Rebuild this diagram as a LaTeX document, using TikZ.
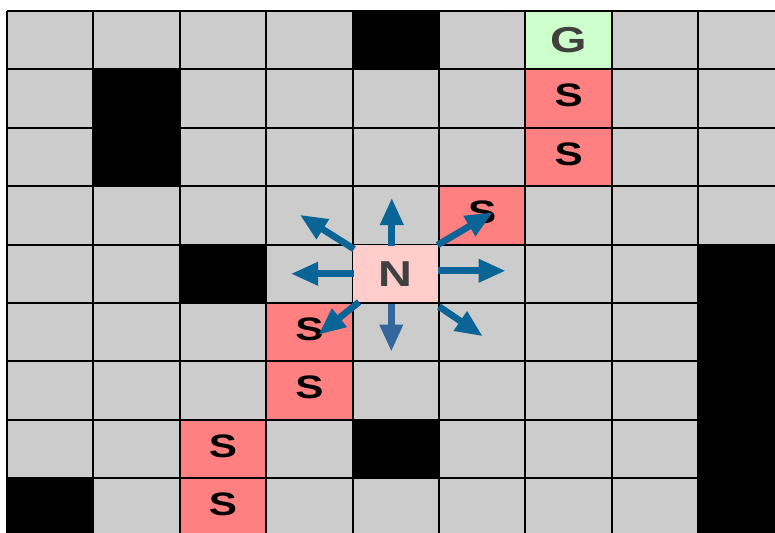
\documentclass[tikz,border=0pt]{standalone}
\usepackage{fontspec}
\setsansfont{Liberation Sans}
\usepackage{graphicx}
\usetikzlibrary{arrows.meta}

\definecolor{cellgray}{HTML}{CCCCCC}
\definecolor{pathred}{HTML}{FF8080}
\definecolor{goalgreen}{HTML}{CCFFCC}
\definecolor{nodepink}{HTML}{FFCCCC}
\definecolor{textgray}{HTML}{404040}
\definecolor{arrowblue}{HTML}{0A6496}
\definecolor{arrowblue2}{HTML}{33669A}

\begin{document}
\begin{tikzpicture}[
    x=1.728cm, y=-1.168cm,
    cell/.style={draw=black, line width=1.1pt, minimum width=1.728cm, minimum height=1.168cm, inner sep=0pt, font=\sffamily\bfseries\fontsize{18.5}{18.5}\selectfont},
    wall/.style={cell, fill=black},
    stepcell/.style={cell, fill=pathred, text=black, text depth=0.12cm},
    goalcell/.style={cell, fill=goalgreen, text=textgray, font=\sffamily\bfseries\fontsize{20.5}{20.5}\selectfont},
    nodecell/.style={cell, fill=nodepink, text=textgray, line width=0.6pt, font=\sffamily\bfseries\fontsize{20.5}{20.5}\selectfont},
    gridline/.style={draw=black, line width=1.1pt},
    movearrow/.style={-{Triangle[length=15.5pt, width=12.5pt]}, line width=3.8pt, color=arrowblue}
]
\useasboundingbox (-0.081,-0.188) rectangle (8.889,8.938);

% board
\fill[cellgray] (0,0) rectangle (9,9);
\foreach \i in {0,...,9} {
    \draw[gridline] (\i,0) -- (\i,9);
    \draw[gridline] (0,\i) -- (9,\i);
}

% obstacles
\node[wall] (w1) at (4.5,0.5) {};
\node[wall] (w2) at (1.5,1.5) {};
\node[wall] (w3) at (1.5,2.5) {};
\node[wall] (w4) at (2.5,4.5) {};
\node[wall] (w5) at (8.5,4.5) {};
\node[wall] (w6) at (8.5,5.5) {};
\node[wall] (w7) at (8.5,6.5) {};
\node[wall] (w8) at (4.5,7.5) {};
\node[wall] (w9) at (8.5,7.5) {};
\node[wall] (w10) at (0.5,8.5) {};
\node[wall] (w11) at (8.5,8.5) {};

% goal and path
\node[goalcell] (goal) at (6.5,0.5) {\scalebox{1.3}[1]{G}};
\node[stepcell] (s1) at (6.5,1.5) {\scalebox{1.3}[1]{S}};
\node[stepcell] (s2) at (6.5,2.5) {\scalebox{1.3}[1]{S}};
\node[stepcell] (s3) at (5.5,3.5) {\scalebox{1.3}[1]{S}};
\node[stepcell] (s4) at (3.5,5.5) {\scalebox{1.3}[1]{S}};
\node[stepcell] (s5) at (3.5,6.5) {\scalebox{1.3}[1]{S}};
\node[stepcell] (s6) at (2.5,7.5) {\scalebox{1.3}[1]{S}};
\node[stepcell] (s7) at (2.5,8.5) {\scalebox{1.3}[1]{S}};

% current node
\node[nodecell] (cur) at (4.5,4.5) {\scalebox{1.3}[1]{N}};

% neighbour directions
\coordinate (tipN) at ([shift={(-0.08cm,1.52cm)}]cur.center);
\coordinate (tipS) at ([shift={(-0.09cm,-1.56cm)}]cur.center);
\coordinate (tipW) at ([shift={(-2.10cm,0cm)}]cur.center);
\coordinate (tipE) at ([shift={(2.20cm,0.06cm)}]cur.center);
\coordinate (tipNW) at ([shift={(-1.92cm,1.18cm)}]cur.center);
\coordinate (tipNE) at ([shift={(1.94cm,1.23cm)}]cur.center);
\coordinate (tipSW) at ([shift={(-1.55cm,-1.22cm)}]cur.center);
\coordinate (tipSE) at ([shift={(1.74cm,-1.25cm)}]cur.center);

\draw[movearrow] ([shift={(-0.08cm,-0.04cm)}]cur.north) -- (tipN);
\draw[movearrow, color=arrowblue2] ([shift={(-0.09cm,0cm)}]cur.south) -- (tipS);
\draw[movearrow] ([xshift=0.03cm]cur.west) -- (tipW);
\draw[movearrow] ([shift={(-0.03cm,0.06cm)}]cur.east) -- (tipE);
\draw[movearrow] ([shift={(0.04cm,-0.1cm)}]cur.north west) -- (tipNW);
\draw[movearrow] ([shift={(-0.04cm,-0.02cm)}]cur.north east) -- (tipNE);
\draw[movearrow] ([shift={(0.14cm,0.03cm)}]cur.south west) -- (tipSW);
\draw[movearrow] ([shift={(-0.01cm,-0.06cm)}]cur.south east) -- (tipSE);

\end{tikzpicture}
\end{document}
